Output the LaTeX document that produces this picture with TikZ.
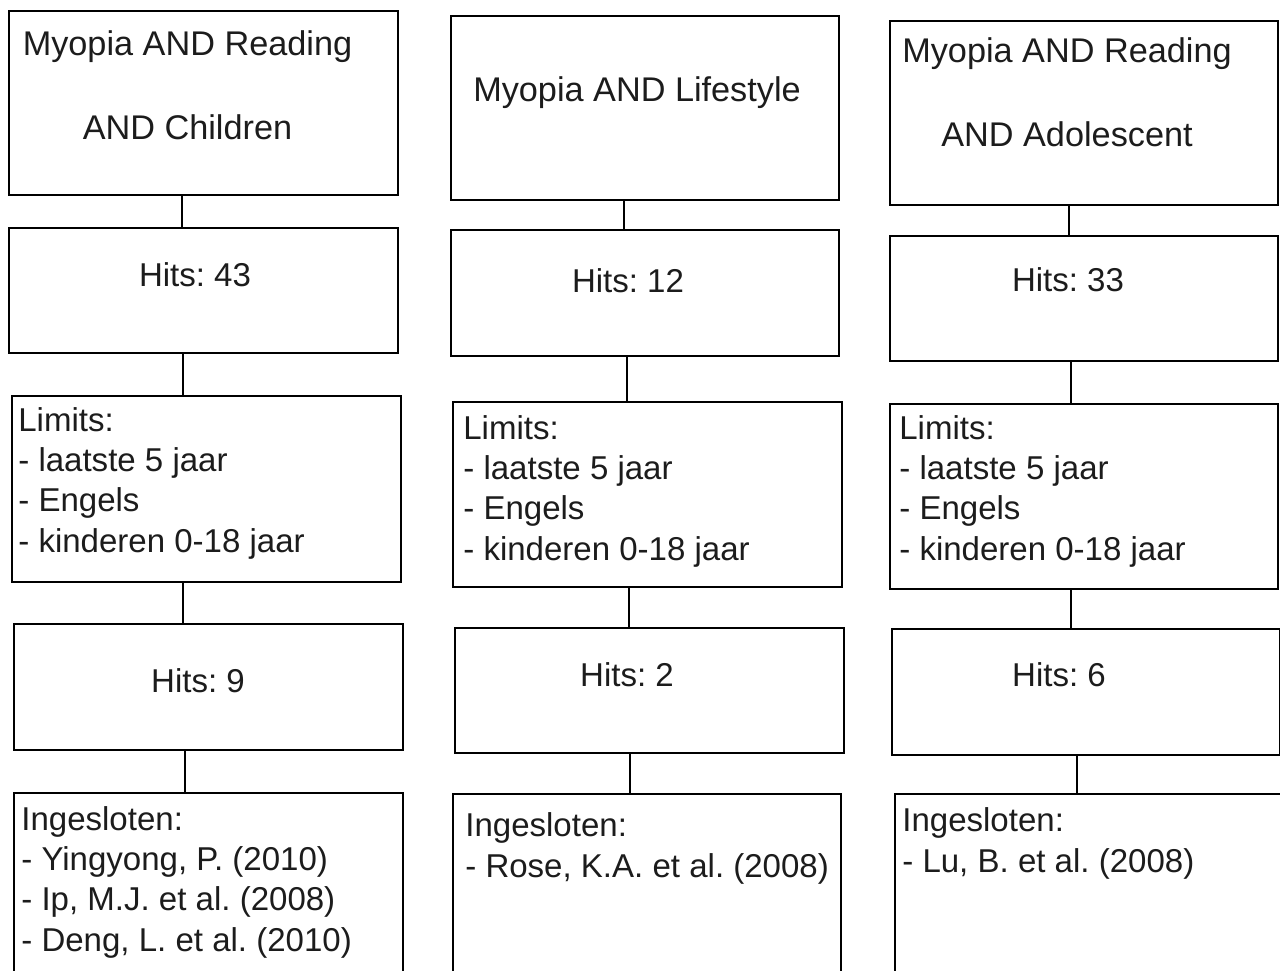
\documentclass[tikz,border=0pt]{standalone}
\usepackage{fontspec}
\setmainfont{Liberation Sans}
\frenchspacing
\definecolor{ink}{HTML}{1C1C1C}

\begin{document}
\begin{tikzpicture}[x=0.02cm, y=-0.02cm,
  box/.style={draw, line width=1.2pt, inner sep=0pt, anchor=north west},
  txt/.style={text=ink, inner sep=0pt, font=\fontsize{18.8}{22.8}\selectfont},
  head/.style={txt, align=center, anchor=base, font=\fontsize{19.5}{22.8}\selectfont},
  list/.style={txt, align=left, anchor=base west}]
\useasboundingbox (0,0) rectangle (1280,970);

\node[box, minimum width=7.78cm, minimum height=3.68cm] (a1) at (8,10) {};
\node[box, minimum width=7.78cm, minimum height=2.5cm] (b1) at (8,227) {};
\node[box, minimum width=7.78cm, minimum height=3.72cm] (c1) at (11,395) {};
\node[box, minimum width=7.78cm, minimum height=2.52cm] (d1) at (13,623) {};
\node[box, minimum width=7.78cm, minimum height=4cm] (e1) at (13,792) {};

\node[box, minimum width=7.76cm, minimum height=3.68cm] (a2) at (450,15) {};
\node[box, minimum width=7.76cm, minimum height=2.52cm] (b2) at (450,229) {};
\node[box, minimum width=7.78cm, minimum height=3.7cm] (c2) at (452,401) {};
\node[box, minimum width=7.78cm, minimum height=2.5cm] (d2) at (454,627) {};
\node[box, minimum width=7.76cm, minimum height=4cm] (e2) at (452,793) {};

\node[box, minimum width=7.76cm, minimum height=3.68cm] (a3) at (889,20) {};
\node[box, minimum width=7.76cm, minimum height=2.5cm] (b3) at (889,235) {};
\node[box, minimum width=7.76cm, minimum height=3.7cm] (c3) at (889,403) {};
\node[box, minimum width=7.76cm, minimum height=2.52cm] (d3) at (891,628) {};
\node[box, minimum width=7.8cm, minimum height=4cm] (e3) at (894,793) {};

\node[head] (ta1) at (187.5,139) {Myopia AND Reading\\[25pt]AND Children};
\node[txt, anchor=base] (tb1) at (195,286) {Hits: 43};
\node[list] (tc1) at (18,552) {Limits:\\- laatste 5 jaar\\- Engels\\- kinderen 0-18 jaar};
\node[txt, anchor=base] (td1) at (198,692) {Hits: 9};
\node[list] (te1) at (21,951) {Ingesloten:\\- Yingyong, P. (2010)\\- Ip, M.J. et al. (2008)\\- Deng, L. et al. (2010)};

\node[head] (ta2) at (637,101) {Myopia AND Lifestyle};
\node[txt, anchor=base] (tb2) at (628,292) {Hits: 12};
\node[list] (tc2) at (463,560) {Limits:\\- laatste 5 jaar\\- Engels\\- kinderen 0-18 jaar};
\node[txt, anchor=base] (td2) at (627,686) {Hits: 2};
\node[list] (te2) at (465,877) {Ingesloten:\\- Rose, K.A. et al. (2008)};

\node[head] (ta3) at (1067,146) {Myopia AND Reading\\[25pt]AND Adolescent};
\node[txt, anchor=base] (tb3) at (1068,291) {Hits: 33};
\node[list] (tc3) at (899,560) {Limits:\\- laatste 5 jaar\\- Engels\\- kinderen 0-18 jaar};
\node[txt, anchor=base] (td3) at (1059,686) {Hits: 6};
\node[list] (te3) at (902,872) {Ingesloten:\\- Lu, B. et al. (2008)};

\begin{scope}[line width=1.2pt]
\draw (182,0 |- a1.south) -- (182,0 |- b1.north);
\draw (183,0 |- b1.south) -- (183,0 |- c1.north);
\draw (183,0 |- c1.south) -- (183,0 |- d1.north);
\draw (185,0 |- d1.south) -- (185,0 |- e1.north);
\draw (624,0 |- a2.south) -- (624,0 |- b2.north);
\draw (627,0 |- b2.south) -- (627,0 |- c2.north);
\draw (629,0 |- c2.south) -- (629,0 |- d2.north);
\draw (630,0 |- d2.south) -- (630,0 |- e2.north);
\draw (1069,0 |- a3.south) -- (1069,0 |- b3.north);
\draw (1071,0 |- b3.south) -- (1071,0 |- c3.north);
\draw (1071,0 |- c3.south) -- (1071,0 |- d3.north);
\draw (1077,0 |- d3.south) -- (1077,0 |- e3.north);
\end{scope}
\end{tikzpicture}
\end{document}
